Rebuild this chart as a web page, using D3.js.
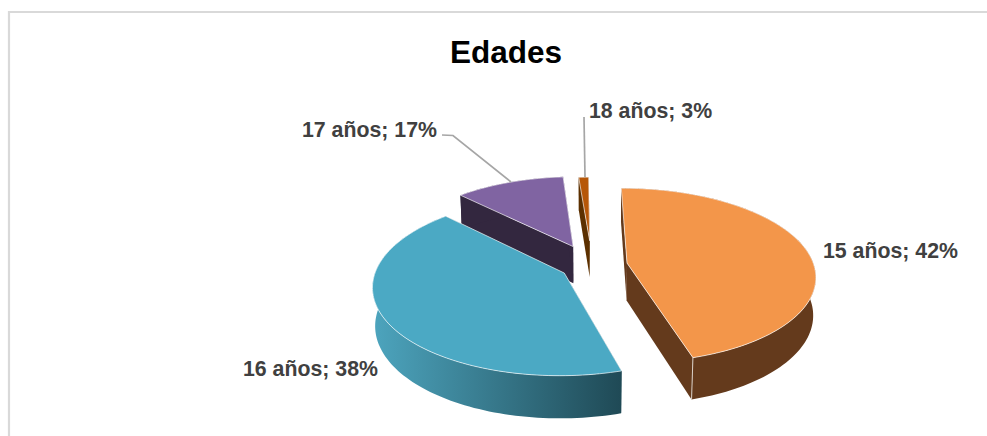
<!DOCTYPE html>
<html><head><meta charset="utf-8">
<script src="https://cdn.jsdelivr.net/npm/d3@7/dist/d3.min.js"></script>
<style>html,body{margin:0;padding:0;background:#fff}svg{display:block}</style>
</head><body><svg id="c" width="987" height="436"></svg>
<script>
const title = "Edades";
const categories = ["15 años","16 años","17 años","18 años"];
// percentages printed on the labels
const labelPercents = [42,38,17,3];
// sweep of each slice as drawn in the picture (differs from the printed labels)
const drawnShares = [45.6,42.1,11.2,1.1];
// how far each slice is pulled out of the pie, as a fraction of the radius
const explode = [0.19,0.17,0.25,0.3];
const radiusFactor = [1,1,0.98,0.9];
const topColors = ["#F3964A","#4BA9C4","#8064A2","#B65708"];
const sideColors = ["#643A1C","#2F6474","#33273F","#5C3000"];

const svg=d3.select("#c");
const P={cx:592,cy:265.5,f:187,e:86,g:0.14,depth:38,k:0.012};
const rad=d=>d*Math.PI/180;
function project(u,v,z){
  const s=1/(1-P.g*v+P.k*z);
  return [P.cx+P.f*u*s, P.cy+P.e*v*s+P.depth*z*s];
}
const pie=d3.pie().sort(null).startAngle(rad(-0.5)).endAngle(rad(359.5));
const arcs=pie(drawnShares).map((a,i)=>{
  const mid=(a.startAngle+a.endAngle)/2;
  return {i,a0:a.startAngle,a1:a.endAngle,r:radiusFactor[i],ou:Math.sin(mid)*explode[i],ov:-Math.cos(mid)*explode[i]};
});
const line=d3.line();
let cur=null;
const rim=(s,t,z)=>{
  const n=Math.max(1,Math.ceil(Math.abs(t-s)/rad(1.5)));
  return d3.range(n+1).map(j=>{
    const th=s+(t-s)*j/n;
    return project(cur.ou+cur.r*Math.sin(th),cur.ov-cur.r*Math.cos(th),z);
  });
};
const apex=z=>project(cur.ou,cur.ov,z);

const defs=svg.append("defs");
const grad=defs.append("linearGradient").attr("id","tealSide")
  .attr("gradientUnits","userSpaceOnUse").attr("x1",377).attr("x2",623).attr("y1",0).attr("y2",0);
grad.append("stop").attr("offset",0).attr("stop-color","#4CA3BC");
grad.append("stop").attr("offset",1).attr("stop-color","#1F4955");

// frame
svg.append("path").attr("d","M9,436V12H987").attr("fill","none").attr("stroke","#D9D9D9").attr("stroke-width",2.2);

svg.append("text").attr("x",506).attr("y",63).attr("text-anchor","middle")
  .attr("font-family","Liberation Sans").attr("font-weight","bold").attr("font-size",31.5).attr("fill","#000").text(title);

// back-to-front: purple, brown, teal, orange
[2,3,1,0].forEach(i=>{
  const d=arcs[i]; cur=d;
  const g=svg.append("g");
  const side=sideColors[i];
  const sideFill=i===1?"url(#tealSide)":side;
  [d.a0,d.a1].forEach(th=>{
    const a=rim(th,th,0)[0], b=rim(th,th,1)[0];
    g.append("path").attr("d",line([apex(0),a,b,apex(1)])+"Z").attr("fill",i===1?"#1F4955":side);
  });
  const top=rim(d.a0,d.a1,0), bot=rim(d.a0,d.a1,1).reverse();
  g.append("path").attr("d",line(top.concat(bot))+"Z").attr("fill",sideFill);
  if(i===0){
    g.append("path").attr("d",line([rim(d.a1,d.a1,0)[0],rim(d.a1,d.a1,1)[0]]))
      .attr("stroke","#D9CFC6").attr("stroke-width",1).attr("fill","none");
  }
  g.append("path").attr("d",line([apex(0)].concat(top))+"Z")
    .attr("fill",topColors[i]).attr("stroke","#fff").attr("stroke-opacity",0.65).attr("stroke-width",1).attr("stroke-linejoin","round");
});

// leader lines
const leader=[[[442,135],[453,135.5],[511,182]],[[584,117],[585,177]]];
leader.forEach(p=>svg.append("path").attr("d",line(p)).attr("fill","none").attr("stroke","#A6A6A6").attr("stroke-width",1.7));

// labels
const labelAt=[[823,258],[243,376],[302,137],[589,118]];
categories.forEach((c,i)=>{
  svg.append("text").attr("x",labelAt[i][0]).attr("y",labelAt[i][1])
    .attr("font-family","Liberation Sans").attr("font-weight","bold").attr("font-size",21.3).attr("fill","#404040")
    .text(`${c}; ${labelPercents[i]}%`);
});
</script></body></html>
